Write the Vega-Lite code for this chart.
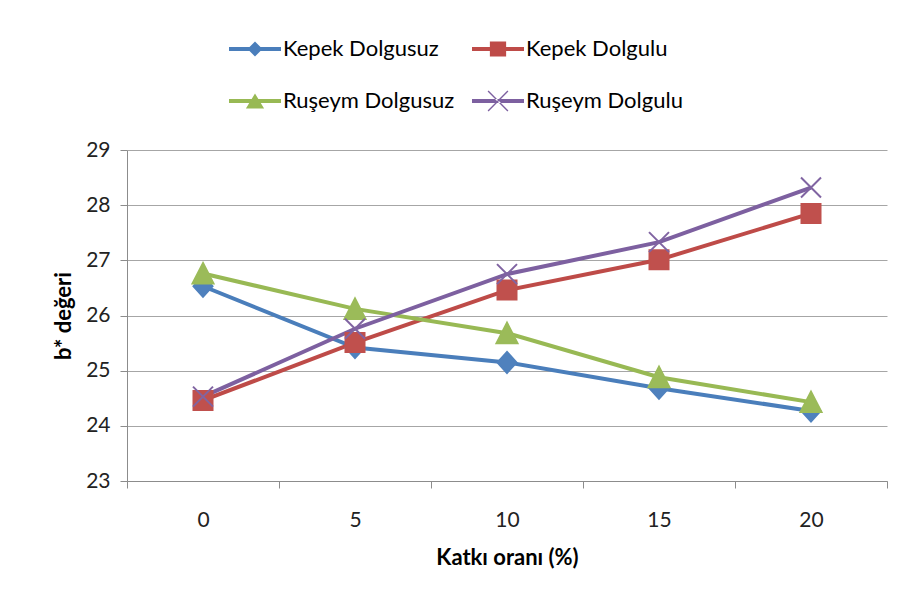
{
  "$schema": "https://vega.github.io/schema/vega-lite/v6.json",
  "width": 760,
  "height": 331,
  "autosize": {"type": "none"},
  "padding": {"left": 127, "top": 150, "right": 17, "bottom": 129},
  "background": "white",
  "config": {"font": "Lato", "view": {"stroke": null}},
  "data": {
    "values": [
      {"x": 0, "series": "Kepek Dolgusuz", "b": 26.53},
      {"x": 5, "series": "Kepek Dolgusuz", "b": 25.42},
      {"x": 10, "series": "Kepek Dolgusuz", "b": 25.15},
      {"x": 15, "series": "Kepek Dolgusuz", "b": 24.68},
      {"x": 20, "series": "Kepek Dolgusuz", "b": 24.27},
      {"x": 0, "series": "Kepek Dolgulu", "b": 24.46},
      {"x": 5, "series": "Kepek Dolgulu", "b": 25.51},
      {"x": 10, "series": "Kepek Dolgulu", "b": 26.46},
      {"x": 15, "series": "Kepek Dolgulu", "b": 27.01},
      {"x": 20, "series": "Kepek Dolgulu", "b": 27.85},
      {"x": 0, "series": "Ruşeym Dolgusuz", "b": 26.76},
      {"x": 5, "series": "Ruşeym Dolgusuz", "b": 26.12},
      {"x": 10, "series": "Ruşeym Dolgusuz", "b": 25.68},
      {"x": 15, "series": "Ruşeym Dolgusuz", "b": 24.88},
      {"x": 20, "series": "Ruşeym Dolgusuz", "b": 24.43},
      {"x": 0, "series": "Ruşeym Dolgulu", "b": 24.53},
      {"x": 5, "series": "Ruşeym Dolgulu", "b": 25.76},
      {"x": 10, "series": "Ruşeym Dolgulu", "b": 26.75},
      {"x": 15, "series": "Ruşeym Dolgulu", "b": 27.33},
      {"x": 20, "series": "Ruşeym Dolgulu", "b": 28.32}
    ]
  },
  "encoding": {
    "x": {
      "field": "x",
      "type": "quantitative",
      "scale": {"domain": [-2.5, 22.5], "nice": false, "zero": false},
      "axis": {
        "values": [-2.5, 0, 2.5, 5, 7.5, 10, 12.5, 15, 17.5, 20, 22.5],
        "labelExpr": "datum.value % 5 === 0 ? datum.label : ''",
        "tickOpacity": {"condition": {"test": "datum.value % 5 === 0", "value": 0}, "value": 1},
        "grid": false,
        "labelOverlap": false,
        "labelFlush": false,
        "labelBound": false,
        "title": "Katkı oranı (%)",
        "titleFont": "Lato",
        "titleFontSize": 22,
        "titleFontWeight": "bold",
        "titleColor": "black",
        "titlePadding": 17,
        "labelFont": "Lato",
        "labelFontSize": 21,
        "labelColor": "#222222",
        "labelPadding": 21,
        "domainColor": "#8c8c8c",
        "tickColor": "#8c8c8c",
        "tickSize": 7
      }
    },
    "y": {
      "field": "b",
      "type": "quantitative",
      "scale": {"domain": [23, 29], "nice": false, "zero": false},
      "axis": {
        "values": [23, 24, 25, 26, 27, 28, 29],
        "title": "b* değeri",
        "titleFont": "Lato",
        "titleFontSize": 22,
        "titleFontWeight": "bold",
        "titleColor": "black",
        "titlePadding": 10,
        "labelFont": "Lato",
        "labelFontSize": 21,
        "labelColor": "#222222",
        "labelPadding": 10,
        "domainColor": "#8c8c8c",
        "tickColor": "#8c8c8c",
        "tickSize": 7,
        "grid": true,
        "gridColor": "#a6a6a6",
        "gridWidth": 1
      }
    }
  },
  "resolve": {"scale": {"shape": "independent", "fill": "independent", "stroke": "independent", "color": "independent"}},
  "layer": [
    {
      "mark": {"type": "line", "strokeWidth": 4},
      "encoding": {
        "color": {
          "field": "series",
          "type": "nominal",
          "scale": {
            "domain": ["Kepek Dolgusuz", "Kepek Dolgulu", "Ruşeym Dolgusuz", "Ruşeym Dolgulu"],
            "range": ["#4A7EBB", "#BE4B48", "#98B954", "#7D60A0"]
          },
          "legend": null
        }
      }
    },
    {
      "mark": {"type": "point", "filled": true, "opacity": 1, "strokeWidth": 2, "size": 400},
      "encoding": {
        "shape": {
          "field": "series",
          "type": "nominal",
          "scale": {
            "domain": ["Kepek Dolgusuz", "Kepek Dolgulu", "Ruşeym Dolgusuz", "Ruşeym Dolgulu"],
            "range": [
              "M0,-1.05L0.95,0L0,1.05L-0.95,0Z",
              "M-0.95,-0.95H0.95V0.95H-0.95Z",
              "M0,-1.05L1.05,1H-1.05Z",
              "M-1,-1L1,1M-1,1L1,-1"
            ]
          },
          "legend": null
        },
        "fill": {
          "field": "series",
          "type": "nominal",
          "scale": {
            "domain": ["Kepek Dolgusuz", "Kepek Dolgulu", "Ruşeym Dolgusuz", "Ruşeym Dolgulu"],
            "range": ["#4F81BD", "#C0504D", "#9BBB59", "#8064A2"]
          },
          "legend": null
        },
        "stroke": {
          "field": "series",
          "type": "nominal",
          "scale": {
            "domain": ["Kepek Dolgusuz", "Kepek Dolgulu", "Ruşeym Dolgusuz", "Ruşeym Dolgulu"],
            "range": ["#4F81BD", "#C0504D", "#9BBB59", "#8064A2"]
          },
          "legend": null
        }
      }
    },
    {
      "mark": {"type": "point", "filled": true, "opacity": 0, "strokeWidth": 0, "size": 169},
      "encoding": {
        "shape": {
          "field": "series",
          "type": "nominal",
          "scale": {
            "domain": ["Kepek Dolgusuz", "Kepek Dolgulu", "Ruşeym Dolgusuz", "Ruşeym Dolgulu"],
            "range": [
              "M-4,-0.3H4V0.3H-4Z M0,-1.15L1.15,0L0,1.15L-1.15,0Z",
              "M-4,-0.3H4V0.3H-4Z M-1.25,-1.15H1.25V1.15H-1.25Z",
              "M-4,-0.3H4V0.3H-4Z M0,-1.15L1.4,1.15H-1.4Z",
              "M-4,-0.3H4V0.3H-4Z M-1.6,-1.45L1.45,1.6L1.6,1.45L-1.45,-1.6Z M-1.6,1.45L1.45,-1.6L1.6,-1.45L-1.45,1.6Z"
            ]
          },
          "legend": {
            "orient": "none",
            "legendX": 117,
            "legendY": -112,
            "columns": 2,
            "direction": "horizontal",
            "title": null,
            "labelFont": "Lato",
            "labelFontSize": 22,
            "labelColor": "black",
            "labelLimit": 400,
            "symbolSize": 169,
            "symbolStrokeWidth": 0,
            "symbolOpacity": 1,
            "labelOffset": 17,
            "columnPadding": 17,
            "rowPadding": 30
          }
        },
        "fill": {
          "field": "series",
          "type": "nominal",
          "scale": {
            "domain": ["Kepek Dolgusuz", "Kepek Dolgulu", "Ruşeym Dolgusuz", "Ruşeym Dolgulu"],
            "range": ["#4A7EBB", "#BE4B48", "#98B954", "#7D60A0"]
          },
          "legend": {
            "orient": "none",
            "legendX": 117,
            "legendY": -112,
            "columns": 2,
            "direction": "horizontal",
            "title": null,
            "labelFont": "Lato",
            "labelFontSize": 22,
            "labelColor": "black",
            "labelLimit": 400,
            "symbolSize": 169,
            "symbolStrokeWidth": 0,
            "symbolOpacity": 1,
            "labelOffset": 17,
            "columnPadding": 17,
            "rowPadding": 30
          }
        }
      }
    }
  ]
}
